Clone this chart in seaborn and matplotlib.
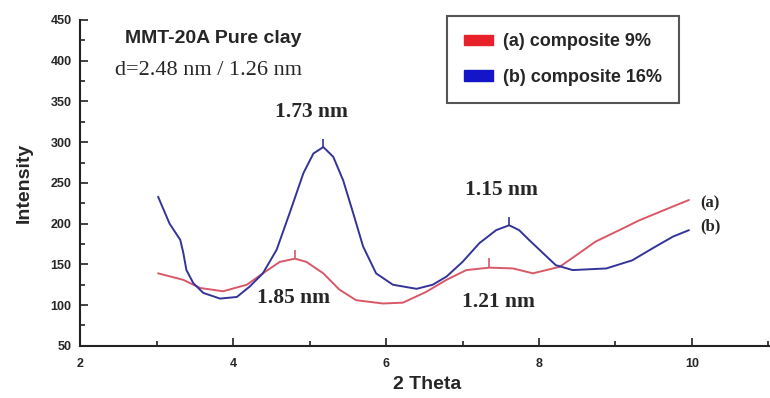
import seaborn as sns
import matplotlib.pyplot as plt
import pandas as pd
from matplotlib.patches import Patch
from matplotlib.ticker import MultipleLocator

# XRD scans (2 theta, intensity)
theta_a = [3.02, 3.35, 3.57, 3.87, 4.18, 4.39, 4.61, 4.81, 4.96, 5.18, 5.39, 5.61,
           5.96, 6.22, 6.52, 6.79, 7.05, 7.35, 7.66, 7.92, 8.27, 8.53, 8.74, 9.05,
           9.31, 9.75, 9.96]
int_a = [139, 131, 121, 117, 125, 139, 153, 157, 153, 139, 119, 106,
         102, 103, 116, 131, 143, 146, 145, 139, 147, 164, 178, 192,
         204, 221, 229]

theta_b = [3.02, 3.17, 3.31, 3.35, 3.39, 3.48, 3.61, 3.83, 4.05, 4.22, 4.39, 4.57,
           4.74, 4.92, 5.05, 5.18, 5.31, 5.44, 5.57, 5.70, 5.87, 6.09, 6.40, 6.61,
           6.79, 7.0, 7.22, 7.44, 7.61, 7.74, 7.87, 8.05, 8.22, 8.44, 8.88, 9.22,
           9.49, 9.75, 9.96]
int_b = [233, 200, 180, 164, 143, 127, 115, 108, 110, 123, 139, 168,
         213, 262, 286, 294, 282, 253, 213, 172, 139, 125, 120, 125,
         135, 153, 176, 192, 198, 192, 180, 164, 149, 143, 145, 155,
         170, 184, 192]

# little peak marks
peak_a_x = [4.81, 7.35]
peak_a_lo = [157, 146]
peak_a_hi = [168, 158]
peak_b_x = [5.18, 7.61]
peak_b_lo = [294, 198]
peak_b_hi = [304, 208]

labels = ["(a) composite 9%", "(b) composite 16%"]

df = pd.concat([
    pd.DataFrame({"theta": theta_a, "intensity": int_a, "sample": labels[0]}),
    pd.DataFrame({"theta": theta_b, "intensity": int_b, "sample": labels[1]}),
])

sns.set_theme(style="white")
plt.rcParams["font.family"] = ["Liberation Sans", "DejaVu Sans"]

line_cols = {labels[0]: "#d95868", labels[1]: "#343498"}

fig = plt.figure(figsize=(7.7, 3.98), dpi=100)
ax = fig.add_axes([0.104, 0.131, 0.896, 0.819])

sns.lineplot(data=df, x="theta", y="intensity", hue="sample", palette=line_cols,
             sort=False, estimator=None, lw=1.4, legend=False, ax=ax)
ax.vlines(peak_a_x, peak_a_lo, peak_a_hi, color=line_cols[labels[0]], lw=1.2)
ax.vlines(peak_b_x, peak_b_lo, peak_b_hi, color=line_cols[labels[1]], lw=1.2)

ax.set_xlim(2, 11.02)
ax.set_ylim(50, 450)
ax.xaxis.set_major_locator(MultipleLocator(2))
ax.xaxis.set_minor_locator(MultipleLocator(1))
ax.yaxis.set_major_locator(MultipleLocator(50))
ax.yaxis.set_minor_locator(MultipleLocator(25))
ax.tick_params(which="both", direction="in", color="#222222", width=1.2,
               bottom=True, left=True)
ax.tick_params(which="major", length=6, labelsize=9, pad=6)
ax.tick_params(axis="x", which="major", pad=9)
ax.tick_params(which="minor", length=3.5)
for t in ax.get_xticklabels() + ax.get_yticklabels():
    t.set_fontweight("bold")

for s in ["top", "right"]:
    ax.spines[s].set_visible(False)
for s in ["left", "bottom"]:
    ax.spines[s].set_color("#222222")
    ax.spines[s].set_linewidth(1.5)

ax.set_xlabel("2 Theta", fontsize=14, fontweight="bold")
ax.xaxis.set_label_coords(0.503, -0.093)
ax.set_ylabel("Intensity", fontsize=14, fontweight="bold")
ax.yaxis.set_label_coords(-0.068, 0.50)

serif = ["Liberation Serif", "DejaVu Serif"]
ax.text(3.74, 427, "MMT-20A Pure clay", fontsize=14, fontweight="bold",
        ha="center", va="center")
ax.text(3.68, 388, "d=2.48 nm / 1.26 nm", fontsize=16, family=serif,
        ha="center", va="center")
for tx, ty, s in [(5.03, 337, "1.73 nm"), (7.51, 241, "1.15 nm"),
                  (4.79, 109, "1.85 nm"), (7.47, 104, "1.21 nm")]:
    ax.text(tx, ty, s, fontsize=15.5, family=serif, fontweight="bold",
            ha="center", va="center")
ax.text(10.24, 225, "(a)", fontsize=12, family=serif, fontweight="bold",
        ha="center", va="center")
ax.text(10.24, 196, "(b)", fontsize=12, family=serif, fontweight="bold",
        ha="center", va="center")

handles = [Patch(color="#e8202a"), Patch(color="#1414c8")]
leg = ax.legend(handles, labels, loc="upper left", bbox_to_anchor=(0.519, 1.039),
                frameon=True, fancybox=False, framealpha=1, borderpad=0.95,
                labelspacing=1.05, handlelength=1.6, handleheight=0.55,
                handletextpad=0.55, prop={"weight": "bold", "size": 13})
leg.get_frame().set_edgecolor("#555555")
leg.get_frame().set_linewidth(1.5)

fig.savefig("out.png", dpi=100)
